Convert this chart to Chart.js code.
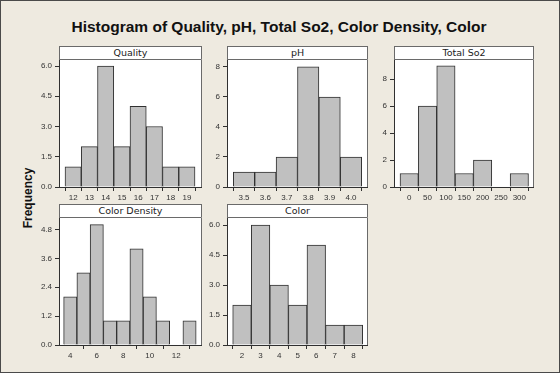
<!DOCTYPE html>
<html lang="en">
<head>
<meta charset="UTF-8">
<title>Histogram</title>
<script src="https://cdn.jsdelivr.net/npm/chart.js@4/dist/chart.umd.min.js"></script>
<style>
  body { margin: 0; }
  #frame { position: absolute; left: 0; top: 0; width: 560px; height: 373px; box-sizing: border-box;
           border: 1px solid #4a4a4a; background: #eeeae0; overflow: hidden; }
  #title { position: absolute; left: 0; top: 17px; width: 556px; text-align: center;
           font: bold 15.5px "Liberation Sans", sans-serif; color: #111; }
  #ylab { position: absolute; left: 27px; top: 197px; transform: translate(-50%, -50%) rotate(-90deg);
          font: bold 12px "Liberation Sans", sans-serif; color: #111; white-space: nowrap; }
  .head { position: absolute; box-sizing: border-box; background: #fff; border: 1px solid #6a6a6a;
          font: 9.5px "DejaVu Sans", sans-serif; color: #222; text-align: center; line-height: 12px; }
  canvas { position: absolute; }
</style>
</head>
<body>
<div id="frame">
  <div id="title">Histogram of Quality, pH, Total So2, Color Density, Color</div>
  <div id="ylab">Frequency</div>
</div>
<script>
  // Quality
  const qualityBins = [12, 13, 14, 15, 16, 17, 18, 19];
  const qualityCounts = [1, 2, 6, 2, 4, 3, 1, 1];
  const qualityXTicks = [12, 13, 14, 15, 16, 17, 18, 19];
  const qualityYTicks = [0, 1.5, 3, 4.5, 6];
  const qualityYLabels = ['0.0', '1.5', '3.0', '4.5', '6.0'];

  // pH
  const phBins = [3.5, 3.6, 3.7, 3.8, 3.9, 4.0];
  const phCounts = [1, 1, 2, 8, 6, 2];
  const phXTicks = [3.5, 3.6, 3.7, 3.8, 3.9, 4.0];
  const phXLabels = ['3.5', '3.6', '3.7', '3.8', '3.9', '4.0'];
  const phYTicks = [0, 2, 4, 6, 8];

  // Total So2
  const so2Bins = [0, 50, 100, 150, 200, 250, 300];
  const so2Counts = [1, 6, 9, 1, 2, 0, 1];
  const so2XTicks = [0, 50, 100, 150, 200, 250, 300];
  const so2YTicks = [0, 2, 4, 6, 8];

  // Color Density
  const densityBins = [4, 5, 6, 7, 8, 9, 10, 11, 12, 13];
  const densityCounts = [2, 3, 5, 1, 1, 4, 2, 1, 0, 1];
  const densityXTicks = [4, 6, 8, 10, 12];
  const densityYTicks = [0, 1.2, 2.4, 3.6, 4.8];
  const densityYLabels = ['0.0', '1.2', '2.4', '3.6', '4.8'];

  // Color
  const colorBins = [2, 3, 4, 5, 6, 7, 8];
  const colorCounts = [2, 6, 3, 2, 5, 1, 1];
  const colorXTicks = [2, 3, 4, 5, 6, 7, 8];
  const colorYTicks = [0, 1.5, 3, 4.5, 6];
  const colorYLabels = ['0.0', '1.5', '3.0', '4.5', '6.0'];

  const panels = [
    { name: 'Quality', bins: qualityBins, counts: qualityCounts, xt: qualityXTicks, xl: qualityXTicks.map(String),
      yt: qualityYTicks, yl: qualityYLabels, xmin: 11.13, xmax: 19.93, ymax: 6.35,
      left: 58, right: 201, top: 45, head: 13, bottom: 186 },
    { name: 'pH', bins: phBins, counts: phCounts, xt: phXTicks, xl: phXLabels,
      yt: phYTicks, yl: phYTicks.map(String), xmin: 3.4206, xmax: 4.0794, ymax: 8.53,
      left: 226, right: 367, top: 45, head: 13, bottom: 186 },
    { name: 'Total So2', bins: so2Bins, counts: so2Counts, xt: so2XTicks, xl: so2XTicks.map(String),
      yt: so2YTicks, yl: so2YTicks.map(String), xmin: -41.4, xmax: 340, ymax: 9.5,
      left: 393, right: 533, top: 45, head: 13, bottom: 186 },
    { name: 'Color Density', bins: densityBins, counts: densityCounts, xt: densityXTicks, xl: densityXTicks.map(String),
      yt: densityYTicks, yl: densityYLabels, xmin: 3.15, xmax: 13.94, ymax: 5.32,
      left: 58, right: 201, top: 203, head: 13, bottom: 344 },
    { name: 'Color', bins: colorBins, counts: colorCounts, xt: colorXTicks, xl: colorXTicks.map(String),
      yt: colorYTicks, yl: colorYLabels, xmin: 1.193, xmax: 8.785, ymax: 6.4,
      left: 226, right: 367, top: 203, head: 13, bottom: 344 }
  ];

  const YW = 34, XH = 20;
  const frame = document.getElementById('frame');
  const tickFont = { family: 'Liberation Sans', size: 8 };

  const framePlugin = {
    id: 'panelFrame',
    beforeDraw(chart) {
      const a = chart.chartArea, ctx = chart.ctx;
      ctx.save();
      ctx.fillStyle = '#ffffff';
      ctx.fillRect(a.left, a.top, a.right - a.left, a.bottom - a.top);
      ctx.restore();
    },
    afterDraw(chart) {
      const a = chart.chartArea, ctx = chart.ctx;
      ctx.save();
      ctx.strokeStyle = '#6a6a6a';
      ctx.lineWidth = 1;
      ctx.beginPath();
      ctx.moveTo(a.left, a.top + 0.5);
      ctx.lineTo(a.right - 0.5, a.top + 0.5);
      ctx.lineTo(a.right - 0.5, a.bottom);
      ctx.stroke();
      ctx.restore();
    }
  };

  panels.forEach(p => {
    const head = document.createElement('div');
    head.className = 'head';
    head.style.left = p.left + 'px';
    head.style.top = p.top + 'px';
    head.style.width = (p.right - p.left) + 'px';
    head.style.height = (p.head + 1) + 'px';
    head.textContent = p.name;
    frame.appendChild(head);

    const plotTop = p.top + p.head;
    const cv = document.createElement('canvas');
    cv.width = (p.right - p.left) + YW;
    cv.height = (p.bottom - plotTop) + XH;
    cv.style.left = (p.left - YW) + 'px';
    cv.style.top = plotTop + 'px';
    frame.appendChild(cv);

    new Chart(cv.getContext('2d'), {
      type: 'bar',
      data: {
        datasets: [{
          data: p.bins.map((b, i) => ({ x: b, y: p.counts[i] })),
          backgroundColor: '#c0c0c0',
          borderColor: '#303030',
          borderWidth: 1,
          barPercentage: 1,
          categoryPercentage: 1
        }]
      },
      options: {
        responsive: false,
        animation: false,
        events: [],
        layout: { padding: 0 },
        plugins: { legend: { display: false }, tooltip: { enabled: false } },
        scales: {
          x: {
            type: 'linear', min: p.xmin, max: p.xmax, offset: false,
            grid: { drawOnChartArea: false, drawTicks: true, tickLength: 4, color: '#303030' },
            border: { color: '#303030', width: 1 },
            ticks: { color: '#333', font: tickFont, padding: 2,
                     autoSkip: false, maxRotation: 0, callback: (v, i) => p.xl[i] },
            afterBuildTicks: s => { s.ticks = p.xt.map(v => ({ value: v })); },
            afterFit: s => { s.height = XH; s.paddingLeft = 0; s.paddingRight = 0; }
          },
          y: {
            min: 0, max: p.ymax,
            grid: { drawOnChartArea: false, drawTicks: true, tickLength: 4, color: '#303030' },
            border: { color: '#303030', width: 1 },
            ticks: { color: '#333', font: tickFont, padding: 3,
                     autoSkip: false, callback: (v, i) => p.yl[i] },
            afterBuildTicks: s => { s.ticks = p.yt.map(v => ({ value: v })); },
            afterFit: s => { s.width = YW; s.paddingTop = 0; s.paddingBottom = 0; }
          }
        }
      },
      plugins: [framePlugin]
    });
  });
</script>
</body>
</html>
